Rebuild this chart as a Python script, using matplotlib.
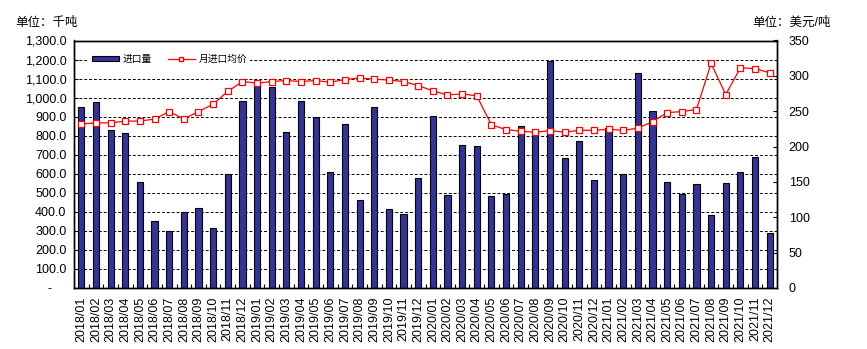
import numpy as np
import matplotlib.pyplot as plt
from matplotlib.ticker import FuncFormatter, MultipleLocator
from matplotlib.patches import Patch
from matplotlib.lines import Line2D

plt.rcParams['font.family'] = ['Liberation Sans', 'Noto Sans CJK SC']

months = ['2018/01', '2018/02', '2018/03', '2018/04', '2018/05', '2018/06',
          '2018/07', '2018/08', '2018/09', '2018/10', '2018/11', '2018/12',
          '2019/01', '2019/02', '2019/03', '2019/04', '2019/05', '2019/06',
          '2019/07', '2019/08', '2019/09', '2019/10', '2019/11', '2019/12',
          '2020/01', '2020/02', '2020/03', '2020/04', '2020/05', '2020/06',
          '2020/07', '2020/08', '2020/09', '2020/10', '2020/11', '2020/12',
          '2021/01', '2021/02', '2021/03', '2021/04', '2021/05', '2021/06',
          '2021/07', '2021/08', '2021/09', '2021/10', '2021/11', '2021/12']

# import volume (kt)
volume = [950, 978, 830, 815, 555, 350, 300, 400, 422, 317, 598, 983,
          1065, 1055, 818, 983, 896, 608, 862, 460, 950, 415, 390, 576,
          906, 489, 753, 748, 483, 494, 851, 820, 1192, 682, 770, 568,
          840, 598, 1127, 929, 556, 492, 545, 381, 551, 607, 690, 291]

# monthly average import price (USD/t)
price = [232, 233.5, 233.5, 236, 236, 239, 249.5, 239, 249.5, 260, 278, 292,
         289.6, 292, 293.4, 292, 293.4, 291, 294.8, 297, 295.3, 294, 292, 286.3,
         278.8, 273, 274.5, 271.7, 230.7, 224, 221.7, 220.3, 222.6, 220.3, 223, 223,
         224.5, 223, 226, 235.3, 248, 249.5, 252.4, 317.5, 273.6, 311.3, 310.4, 304.2]

fig = plt.figure(figsize=(8.67, 3.49), dpi=100)
ax = fig.add_axes([74/867, 1-288/349, 703/867, 247.5/349])

x = np.arange(len(months))
ax.bar(x, volume, width=0.42, color='#333399', edgecolor='black', linewidth=0.8, zorder=2)
ax.set_xlim(-0.5, len(months)-0.5)
ax.set_ylim(0, 1300)
ax.yaxis.set_major_locator(MultipleLocator(100))
ax.yaxis.set_major_formatter(FuncFormatter(lambda v, p: '-    ' if v == 0 else f'{v:,.1f}'))
for v in range(100, 1300, 100):
    ax.axhline(v, color='black', lw=0.7, ls=(0, (3, 2)), zorder=1)

ax.set_xticks(x)
ax.set_xticklabels(months, rotation=90)
ax.set_xticks(x[:-1] + 0.5, minor=True)
ax.tick_params(axis='x', which='major', length=0, pad=6, labelsize=9)
ax.tick_params(axis='x', which='minor', direction='in', length=3, width=0.8)
ax.tick_params(axis='y', direction='in', length=3, pad=5.5, labelsize=9)

ax2 = ax.twinx()
ax2.plot(x, price, color='red', lw=0.9, marker='s', ms=5, mfc='white', mec='red', mew=0.9, zorder=3)
ax2.set_ylim(0, 350)
ax2.yaxis.set_major_locator(MultipleLocator(50))
ax2.tick_params(axis='y', direction='in', length=3, pad=8.5, labelsize=9)

for a in (ax, ax2):
    for s in a.spines.values():
        s.set_linewidth(1.0)

handles = [Patch(facecolor='#333399', edgecolor='black', linewidth=0.8),
           Line2D([], [], color='red', lw=0.9, marker='s', ms=3.5, mfc='white', mec='red')]
leg = ax2.legend(handles, ['进口量', '月进口均价'], ncol=2, loc='center left',
                 bbox_to_anchor=(0.021, 0.926), borderaxespad=0, borderpad=0.3,
                 fontsize=7, handlelength=2.8, handleheight=0.45,
                 handletextpad=0.4, columnspacing=1.6, frameon=True, fancybox=False)
leg.get_frame().set_facecolor('white')
leg.get_frame().set_edgecolor('none')
leg.get_frame().set_alpha(1)

fig.text(15/867, 1-22.7/349, '单位：千吨', fontsize=9, va='center', ha='left')
fig.text(831/867, 1-22.7/349, '单位：美元/吨', fontsize=9, va='center', ha='right')

fig.savefig('out.png', dpi=100)
